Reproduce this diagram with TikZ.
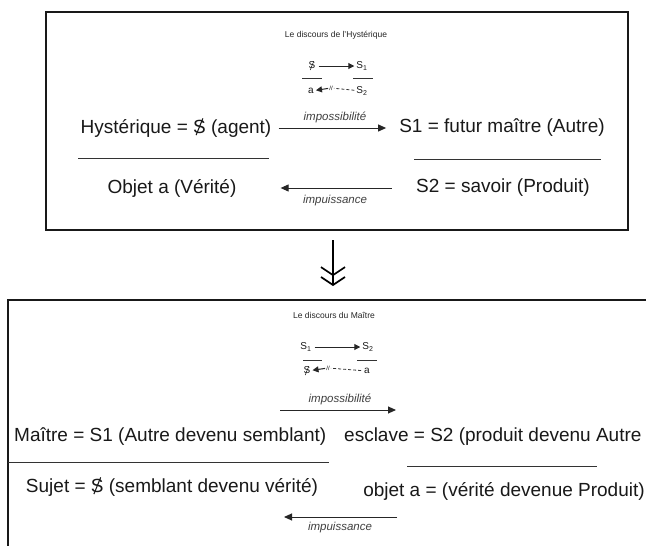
\documentclass[tikz,border=0pt]{standalone}
\usepackage{fontspec}
\usepackage{graphicx}
\setmainfont{Liberation Sans}
\usetikzlibrary{arrows.meta}
\newcommand{\barredS}{\ooalign{S\cr\hidewidth\raisebox{-0.12em}{\rotatebox{68}{\rule{0.95em}{0.055em}}}\hidewidth}}
\tikzset{
  big/.style={font=\fontsize{19}{22}\selectfont, text=black!90, inner sep=0pt},
  lbl/.style={font=\fontsize{11.5}{13}\selectfont\itshape, text=black!75, inner sep=0pt},
  ttl/.style={font=\fontsize{8.5}{10}\selectfont, text=black!85, inner sep=0pt},
  frm/.style={font=\fontsize{10}{12}\selectfont, text=black!90, inner sep=0pt},
  arr/.style={-{Triangle[length=8pt,width=7pt]}, line width=1pt, black!85},
  farr/.style={-{Triangle[length=6pt,width=6pt]}, line width=1pt, black!85},
  rulel/.style={line width=1pt, black!80},
  frule/.style={line width=0.8pt, black!80},
  boxl/.style={line width=1.3pt, black!90},
}
\begin{document}
\begin{tikzpicture}[x=1pt,y=-1pt]
\useasboundingbox (0,0) rectangle (646,546);
\fill[white] (0,0) rectangle (646,546);

% ---------- top box ----------
\draw[boxl] (46,12) rectangle (628,230);
\node[ttl] (ttitle) at (336,35) {Le discours de l'Hystérique};

\node[frm] (tS) at (312,66) {\barredS};
\node[frm] (tS1) at (362,66) {S\textsubscript{1}};
\draw[farr, shorten <=3pt, shorten >=2pt] (tS) -- (tS1);
\draw[frule] (302,78) -- (322,78);
\draw[frule] (353,78) -- (373,78);
\node[frm] (ta) at (311,91) {a};
\node[frm] (tS2) at (362,91) {S\textsubscript{2}};
\node[font=\fontsize{6}{6}\selectfont, inner sep=0pt] (tbar) at (331,88) {//};
\draw[frule, dash pattern=on 3pt off 2pt, shorten <=2pt, shorten >=1pt] (tS2) -- (tbar);
\draw[farr, shorten <=1pt, shorten >=2pt] (tbar) -- (ta);

\node[big] (hyst) at (176,128) {Hystérique = \barredS{} (agent)};
\node[big] (tS1n) at (502,128) {S1 = futur maître (Autre)};
\node[big] (objet) at (172,188) {Objet a (Vérité)};
\node[big] (tS2n) at (503,188) {S2 = savoir (Produit)};

\draw[arr, shorten <=7pt, shorten >=13pt] (hyst) -- (tS1n);
\node[lbl] (timp) at (335,117) {impossibilité};
\draw[arr, shorten <=24pt, shorten >=44pt] (tS2n) -- (objet);
\node[lbl] (tinp) at (335,201) {impuissance};

\draw[rulel] (78,158) -- (269,158);
\draw[rulel] (414,159) -- (601,159);

% ---------- down arrow ----------
\coordinate (dA) at (333,240);
\coordinate (dB) at (333,288);
\draw[line width=1.4pt, -{Straight Barb[length=8pt,width=24pt,line width=1.7pt] Straight Barb[length=8pt,width=24pt,line width=1.7pt,sep=2pt]}] (dA) -- (dB);

% ---------- bottom box ----------
\draw[boxl] (8,546) -- (8,300) -- (646,300);
\node[ttl] (btitle) at (334,315) {Le discours du Maître};

\node[frm] (bS1) at (306,347) {S\textsubscript{1}};
\node[frm] (bS2) at (368,347) {S\textsubscript{2}};
\draw[farr, shorten <=3pt, shorten >=2pt] (bS1) -- (bS2);
\draw[frule] (303,360) -- (322,360);
\draw[frule] (357,360) -- (377,360);
\node[frm] (bS) at (307,371) {\barredS};
\node[frm] (ba) at (367,371) {a};
\node[font=\fontsize{6}{6}\selectfont, inner sep=0pt] (bbar) at (328,368) {//};
\draw[frule, dash pattern=on 3pt off 2pt, shorten <=3pt, shorten >=1pt] (ba) -- (bbar);
\draw[farr, shorten <=1pt, shorten >=2pt] (bbar) -- (bS);

\node[lbl] (bimp) at (340,399) {impossibilité};
\coordinate (bi1) at (280,410);
\coordinate (bi2) at (396,410);
\draw[arr] (bi1) -- (bi2);

\node[big, anchor=west] (maitre) at (14,437) {Maître = S1 (Autre devenu semblant)};
\node[big, anchor=west] (escl) at (344,437) {esclave = S2 (produit devenu Autre};

\draw[rulel] (8,462) -- (329,462);
\draw[rulel] (407,466) -- (597,466);

\node[big] (sujet) at (172,487) {Sujet = \barredS{} (semblant devenu vérité)};
\node[big] (objb) at (504,491) {objet a = (vérité devenue Produit)};

\coordinate (bp1) at (397,517);
\coordinate (bp2) at (284,517);
\draw[arr] (bp1) -- (bp2);
\node[lbl] (binp) at (340,528) {impuissance};
\end{tikzpicture}
\end{document}
